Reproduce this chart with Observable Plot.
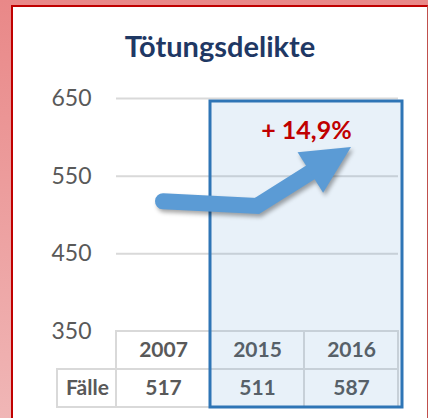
<!DOCTYPE html>
<html>
<head>
<meta charset="utf-8">
<script src="https://cdn.jsdelivr.net/npm/d3@7"></script>
<script src="https://cdn.jsdelivr.net/npm/@observablehq/plot@0.6"></script>
<style>
  html, body { margin: 0; padding: 0; }
  body { width: 428px; height: 418px; overflow: hidden; background: linear-gradient(to bottom, #e98888, #f0b6b6); font-family: Lato, "Open Sans", sans-serif; }
  #wrap { position: relative; width: 428px; height: 418px; }
  #panel { position: absolute; left: 11px; top: 5px; width: 414px; height: 420px; background: #fff;
           border-left: 2px solid #c00000; border-top: 2px solid #c00000; border-right: 1px solid #c0504d; }
  #title { position: absolute; left: 13px; width: 414px; top: 30px; text-align: center; font-weight: 700;
           font-size: 29px; line-height: 32px; color: #1f3864; }
  #chart { position: absolute; left: 0; top: 80px; }
</style>
</head>
<body>
<div id="wrap">
  <div id="panel"></div>
  <div id="title"></div>
  <div id="chart"></div>
</div>
<script>
// ---- data ----
const title = "Tötungsdelikte";
const years = ["2007", "2015", "2016"];
const cases = [517, 511, 587];
const yTicks = [350, 450, 550, 650];
const gridTicks = [450, 550, 650];
const highlightYears = ["2015", "2016"];
const rowLabel = "Fälle";

document.getElementById("title").textContent = title;

const pct = (cases[2] - cases[1]) / cases[1] * 100;
const changeLabel = "+ " + pct.toFixed(1).replace(".", ",") + "%";

const rows = years.map((year, i) => ({year, value: cases[i]}));
const bwOf = (s) => typeof s.bandwidth === "function" ? s.bandwidth() : s.bandwidth;

const gridColor = "#d9d9d9";
const yBase = yTicks[0];

const highlightMark = (index, scales) => {
  const {x, y} = scales;
  const bw = bwOf(x);
  const x0 = x(highlightYears[0]);
  const x1 = x(highlightYears[1]) + bw + 4;
  const y0 = y(yTicks[yTicks.length - 1]) + 3;
  const y1 = y(yBase) + 76;
  const g = d3.create("svg:g");
  g.append("rect").attr("x", x0).attr("y", y0).attr("width", x1 - x0).attr("height", y1 - y0)
    .attr("fill", "#4f8fd0").attr("fill-opacity", 0.13);
  g.append("rect").attr("x", x0).attr("y", y0).attr("width", x1 - x0).attr("height", y1 - y0)
    .attr("fill", "none").attr("stroke", "#2e75b6").attr("stroke-width", 3);
  return g.node();
};

const arrowMark = (index, scales) => {
  const {x, y} = scales;
  const bw = bwOf(x);
  const P = rows.map(d => [x(d.year) + bw / 2, y(d.value)]);
  const tip = P[P.length - 1], prev = P[P.length - 2];
  const dx = tip[0] - prev[0], dy = tip[1] - prev[1];
  const len = Math.hypot(dx, dy);
  const ux = dx / len, uy = dy / len;
  const nx = -uy, ny = ux;
  const headLen = 48, headHalf = 24, lineBack = 38;
  const end = [tip[0] - ux * lineBack, tip[1] - uy * lineBack];
  const base = [tip[0] - ux * headLen, tip[1] - uy * headLen];
  const pts = P.slice(0, -1).concat([end]);
  const g = d3.create("svg:g").style("filter", "drop-shadow(2px 3px 2px rgba(0,0,0,0.35))");
  g.append("path").attr("d", d3.line()(pts)).attr("fill", "none").attr("stroke", "#5b9bd5")
    .attr("stroke-width", 16).attr("stroke-linecap", "round").attr("stroke-linejoin", "miter");
  g.append("path").attr("d", d3.line()([tip, [base[0] + nx * headHalf, base[1] + ny * headHalf], [base[0] - nx * headHalf, base[1] - ny * headHalf]]) + "Z")
    .attr("fill", "#5b9bd5");
  return g.node();
};

const chart = Plot.plot({
  width: 428,
  height: 338,
  marginTop: 18,
  marginBottom: 87,
  marginLeft: 116,
  marginRight: 30,
  style: {fontFamily: "Lato", color: "#595959", background: "transparent", overflow: "visible"},
  x: {type: "band", domain: years, padding: 0, axis: null},
  y: {domain: [350, 650], axis: null},
  marks: [
    Plot.ruleY(gridTicks, {stroke: gridColor, strokeWidth: 2}),
    Plot.axisY(yTicks, {tickSize: 0, tickPadding: 25, fontSize: 23, label: null, fill: "#595959"}),
    // table: header row
    Plot.barY(years, {x: d => d, y1: yBase, y2: yBase, insetBottom: -38, fill: "none", stroke: gridColor, strokeWidth: 2}),
    // table: value row
    Plot.barY(years, {x: d => d, y1: yBase, y2: yBase, insetTop: 38, insetBottom: -76, fill: "none", stroke: gridColor, strokeWidth: 2}),
    // table: row label cell
    Plot.barY([years[0]], {x: d => d, y1: yBase, y2: yBase, insetTop: 38, insetBottom: -76, insetRight: 35, dx: -59, fill: "none", stroke: gridColor, strokeWidth: 2}),
    Plot.text(years, {x: d => d, y: yBase, dy: 19, text: d => d, fontWeight: 700, fontSize: 21, fill: "#595959"}),
    Plot.text(rows, {x: "year", y: yBase, dy: 57, text: d => String(d.value), fontWeight: 700, fontSize: 21, fill: "#595959"}),
    Plot.text([rowLabel], {x: () => years[0], y: yBase, dx: -76, dy: 57, text: d => d, fontWeight: 700, fontSize: 21, fill: "#595959"}),
    highlightMark,
    arrowMark,
    Plot.text([changeLabel], {x: () => highlightYears[1], y: yTicks[yTicks.length - 1], dx: -45, dy: 32, text: d => d, fontWeight: 700, fontSize: 25, fill: "#c00000"})
  ]
});
document.getElementById("chart").appendChild(chart);
</script>
</body>
</html>
